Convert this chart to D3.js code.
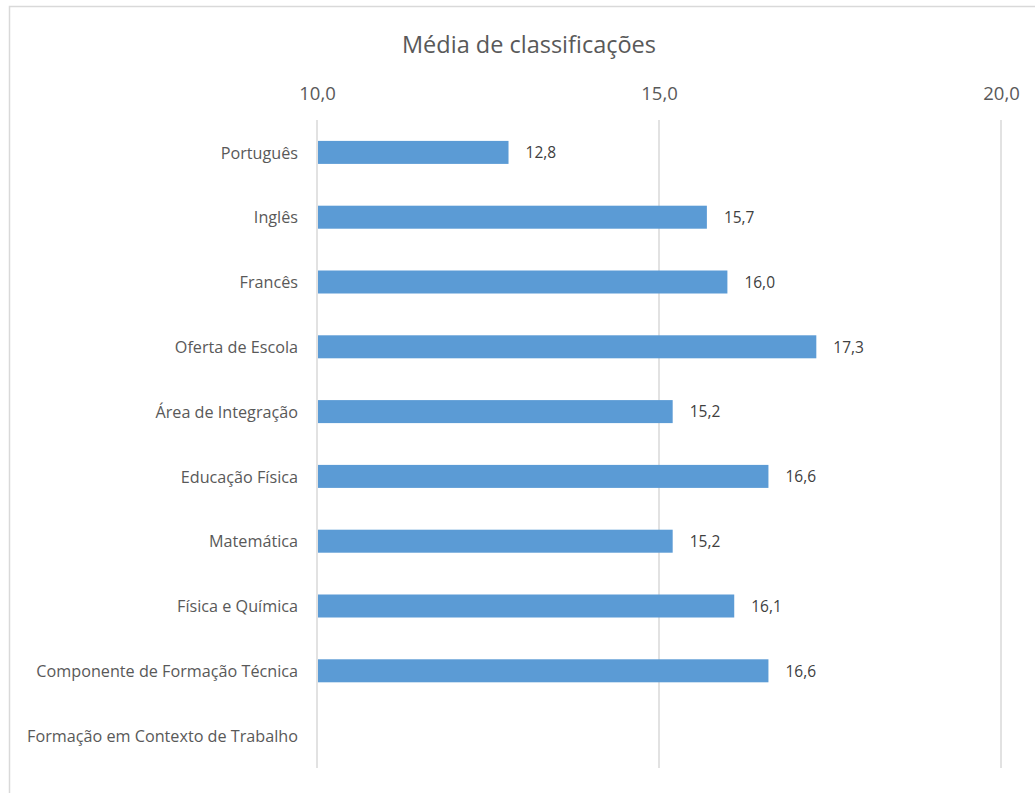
<!DOCTYPE html>
<html>
<head>
<meta charset="utf-8">
<script src="https://cdn.jsdelivr.net/npm/d3@7"></script>
<style>
  html, body { margin: 0; padding: 0; background: #fff; }
  svg { display: block; font-family: "Open Sans", sans-serif; }
</style>
</head>
<body>
<svg id="chart" width="1035" height="793"></svg>
<script>
const categories = [
  "Português", "Inglês", "Francês", "Oferta de Escola", "Área de Integração",
  "Educação Física", "Matemática", "Física e Química",
  "Componente de Formação Técnica", "Formação em Contexto de Trabalho"
];
const values = [12.8, 15.7, 16.0, 17.3, 15.2, 16.6, 15.2, 16.1, 16.6, null];
const tickValues = [10, 15, 20];
const title = "Média de classificações";

const FONT = "'Open Sans', sans-serif";
const svg = d3.select("#chart");
const fmt = v => d3.format(".1f")(v).replace(".", ",");

// chart border
svg.append("rect").attr("x", 9.5).attr("y", 6.5).attr("width", 1040).attr("height", 820)
  .attr("fill", "none").attr("stroke", "#d9d9d9").attr("stroke-width", 1.5);

const margin = { left: 317, right: 1001, top: 120, bottom: 768 };
const x = d3.scaleLinear().domain([10, 20]).range([margin.left, margin.right]);
const y = d3.scaleBand().domain(categories).range([margin.top, margin.bottom]).paddingInner(0.645).paddingOuter(0.3225);

// title
svg.append("text").attr("x", 529).attr("y", 53).attr("text-anchor", "middle")
  .attr("font-size", 23.5).attr("fill", "#595959").text(title);

// gridlines
svg.append("g").selectAll("line").data(tickValues).join("line")
  .attr("x1", d => x(d)).attr("x2", d => x(d))
  .attr("y1", margin.top).attr("y2", margin.bottom)
  .attr("stroke", "#d9d9d9").attr("stroke-width", 1.5);

// top axis tick labels
const axisTop = d3.axisTop(x).tickValues(tickValues).tickFormat(fmt).tickSize(0).tickPadding(0);
const gAxis = svg.append("g").attr("transform", "translate(0,100)").call(axisTop);
gAxis.select(".domain").remove();
gAxis.selectAll("text").attr("font-size", 18.5).attr("fill", "#595959")
  .attr("font-family", FONT).attr("dy", 0);

// category axis labels
const axisLeft = d3.axisLeft(y).tickSize(0).tickPadding(0);
const gLeft = svg.append("g").attr("transform", "translate(298,0)").call(axisLeft);
gLeft.select(".domain").remove();
gLeft.selectAll("text").attr("font-size", 16.2).attr("fill", "#595959")
  .attr("font-family", FONT).attr("dy", "0.38em");

const data = categories.map((c, i) => ({ c, v: values[i] })).filter(d => d.v != null);

// bars
svg.append("g").selectAll("rect").data(data).join("rect")
  .attr("x", x(10) + 1).attr("y", d => y(d.c))
  .attr("width", d => x(d.v) - x(10) - 1).attr("height", y.bandwidth())
  .attr("fill", "#5b9bd5");

// value labels
svg.append("g").selectAll("text").data(data).join("text")
  .attr("x", d => x(d.v) + 17).attr("y", d => y(d.c) + y.bandwidth() / 2)
  .attr("dy", "0.38em").attr("font-size", 15.5).attr("fill", "#404040")
  .text(d => fmt(d.v));
</script>
</body>
</html>
